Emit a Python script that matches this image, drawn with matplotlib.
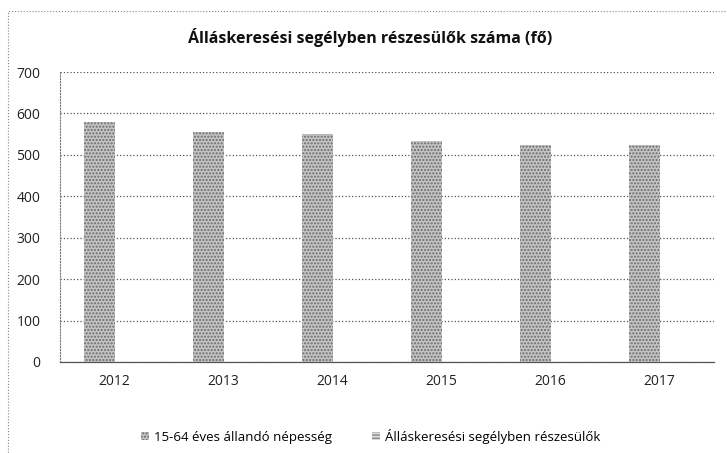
import matplotlib
matplotlib.use("Agg")
import matplotlib.pyplot as plt
import numpy as np
from matplotlib.patches import Rectangle

# data
years = ["2012", "2013", "2014", "2015", "2016", "2017"]
nepesseg = [580, 554, 550, 534, 523, 524]
segely = [0, 0, 0, 0, 0, 0]  # second series not visible in the picture
series_names = ["15-64 éves állandó népesség", "Álláskeresési segélyben részesülők"]
title = "Álláskeresési segélyben részesülők száma (fő)"

plt.rcParams['font.family'] = ['Open Sans', 'DejaVu Sans']
plt.rcParams['hatch.linewidth'] = 1.0

fig = plt.figure(figsize=(7.27, 4.53), dpi=100)
ax = fig.add_axes([0.0825, 0.201, 0.9, 0.640])

x = np.arange(len(years))
w = 0.28
ax.bar(x - w/2, nepesseg, w, color='#c4c4c4', edgecolor='#6a6a6a', hatch='.....', linewidth=0,
       label=series_names[0])
ax.bar(x + w/2, segely, w, color='#dadada', edgecolor='#8a8a8a', hatch='-----', linewidth=0,
       label=series_names[1])

ax.set_xlim(-0.5, len(years) - 0.5)
ax.set_ylim(0, 700)
ax.set_yticks(range(0, 701, 100))
ax.set_xticks(x)
ax.set_xticklabels(years)
ax.tick_params(axis='both', length=0, labelsize=10, colors='#222222')
ax.tick_params(axis='x', pad=9)
ax.tick_params(axis='y', pad=14)
ax.grid(axis='y', linestyle=':', color='#555555', linewidth=0.9)
ax.set_axisbelow(True)
for s in ['top', 'right']:
    ax.spines[s].set_visible(False)
ax.spines['left'].set_linestyle(':')
ax.spines['left'].set_color('#777777')
ax.spines['bottom'].set_color('#555555')
ax.spines['bottom'].set_linewidth(0.9)

fig.text(0.509, 0.918, title, ha='center', va='center', fontsize=11.5, fontweight='bold', color='#111111')

fig.legend(loc='center', bbox_to_anchor=(0.51, 0.037), ncol=2, frameon=False, fontsize=9.5,
           handlelength=0.6, handleheight=0.6, columnspacing=3.0, handletextpad=0.4)

# outer chart frame
fig.patches.append(Rectangle((0.011, -0.01), 1.0, 0.985, transform=fig.transFigure,
                             fill=False, edgecolor='#888888', linewidth=0.8, linestyle=':'))

fig.savefig("out.png", dpi=100)
